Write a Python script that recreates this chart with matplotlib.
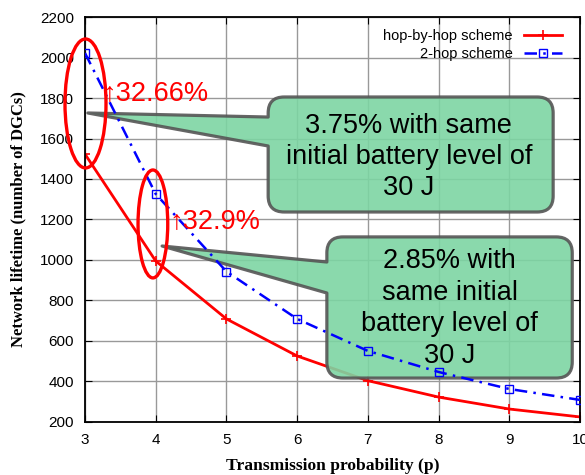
import matplotlib
matplotlib.use("Agg")
import matplotlib.pyplot as plt
from matplotlib.path import Path
from matplotlib.patches import PathPatch, Ellipse
from matplotlib.transforms import IdentityTransform

# Datos
p = [3, 4, 5, 6, 7, 8, 9, 10]
hop_by_hop = [1523, 995, 709, 526, 404, 323, 264, 225]
two_hop = [2022, 1326, 943, 709, 551, 447, 363, 309]

xticks = [3, 4, 5, 6, 7, 8, 9, 10]
yticks = [200, 400, 600, 800, 1000, 1200, 1400, 1600, 1800, 2000, 2200]

gain_labels = ["\u219132.66%", "\u219132.9%"]
box_texts = ["3.75% with same\ninitial battery level of\n30 J",
             "2.85% with\nsame initial\nbattery level of\n30 J"]

plt.rcParams["font.family"] = ["Liberation Sans", "DejaVu Sans"]

fig = plt.figure(figsize=(5.85, 4.75), dpi=100)
ax = fig.add_axes([0.1453, 0.1116, 0.8462, 0.8526])

ax.plot(p, hop_by_hop, color="red", lw=2.0, marker="+", ms=7, mew=1.2,
        label="hop-by-hop scheme", zorder=2)
ax.plot(p, two_hop, color="blue", lw=1.8, ls=(0, (5, 2.5, 1, 2.5)), marker="s",
        ms=6, mfc="none", mew=1.0, label="2-hop scheme", zorder=3)

ax.set_xlim(3, 10)
ax.set_ylim(200, 2200)
ax.set_xticks(xticks)
ax.set_yticks(yticks)
ax.tick_params(direction="in", top=True, right=True, labelsize=11, length=5,
               pad=8)
ax.grid(True, color="#999999", lw=1.0)
for s in ax.spines.values():
    s.set_linewidth(1.3)

ax.set_xlabel("Transmission probability (p)", family="Liberation Serif",
              fontweight="bold", fontsize=12.6, labelpad=8)
ax.set_ylabel("Network lifetime (number of DGCs)", family="Liberation Serif",
              fontweight="bold", fontsize=12, labelpad=10)

ax.legend(loc="upper right", bbox_to_anchor=(0.985, 0.995), frameon=False,
          markerfirst=False, fontsize=10.5, handlelength=2.6,
          labelspacing=0.25, borderaxespad=0.3)

# Elipses rojas
ax.add_patch(Ellipse((3.007, 1773), 0.58, 637, fill=False, ec="red", lw=2.4,
                     zorder=4, clip_on=False))
ax.add_patch(Ellipse((3.96, 1178), 0.42, 533, fill=False, ec="red", lw=2.4,
                     zorder=4))

ax.text(3.24, 1825, gain_labels[0], color="red", fontsize=19.5, va="center",
        ha="left", zorder=5)
ax.text(4.19, 1190, gain_labels[1], color="red", fontsize=19.5, va="center",
        ha="left", zorder=5)


def callout(x0, x1, ya0, ya1, ya, yb, tip, r=16):
    # caja redondeada con cuña a la izquierda, en pixeles de pantalla
    T = ax.transData
    X0, Yp = T.transform((x0, ya0))
    X1, Yq = T.transform((x1, ya1))
    Y0, Y1 = min(Yp, Yq), max(Yp, Yq)
    _, YA = T.transform((x0, ya))
    _, YB = T.transform((x0, yb))
    TX, TY = T.transform(tip)
    verts = [(X0 + r, Y0), (X1 - r, Y0), (X1, Y0), (X1, Y0 + r),
             (X1, Y1 - r), (X1, Y1), (X1 - r, Y1),
             (X0 + r, Y1), (X0, Y1), (X0, Y1 - r),
             (X0, YA), (TX, TY), (X0, YB),
             (X0, Y0 + r), (X0, Y0), (X0 + r, Y0), (X0 + r, Y0)]
    codes = [Path.MOVETO, Path.LINETO, Path.CURVE3, Path.CURVE3,
             Path.LINETO, Path.CURVE3, Path.CURVE3,
             Path.LINETO, Path.CURVE3, Path.CURVE3,
             Path.LINETO, Path.LINETO, Path.LINETO,
             Path.LINETO, Path.CURVE3, Path.CURVE3, Path.CLOSEPOLY]
    patch = PathPatch(Path(verts, codes), transform=IdentityTransform(),
                      fc="#7dd5a3", ec="#555555", lw=2.3, alpha=0.9,
                      zorder=2.5, joinstyle="round", clip_on=False)
    ax.add_artist(patch)


callout(5.59, 9.62, 1805, 1237, 1706, 1563, (3.04, 1726))
callout(6.42, 9.89, 1114, 417, 990, 837, (4.09, 1069))

ax.text(7.58, 1509, box_texts[0], ha="center", va="center", fontsize=19.5,
        linespacing=1.25, zorder=6)
ax.text(8.155, 760, box_texts[1], ha="center", va="center", fontsize=19.5,
        linespacing=1.27, zorder=6)

fig.savefig("out.png", dpi=100)
